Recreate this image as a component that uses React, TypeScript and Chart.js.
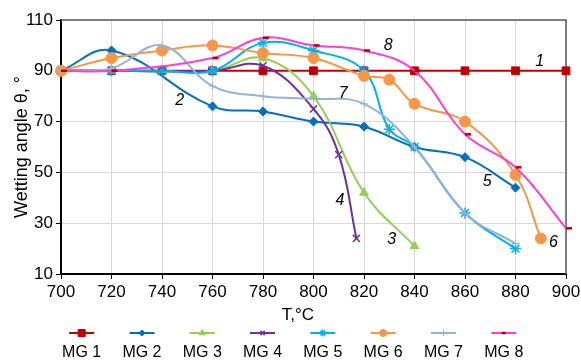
import React, { useEffect, useRef } from 'react';
import { Chart, registerables } from 'chart.js';
import { drawPoint } from 'chart.js/helpers';

Chart.register(...registerables);

const FONT = '"Liberation Sans", Arial, sans-serif';

// ---- data ----
const seriesNames = ['MG 1', 'MG 2', 'MG 3', 'MG 4', 'MG 5', 'MG 6', 'MG 7', 'MG 8'];

const mg1T = [700, 720, 740, 760, 780, 800, 820, 840, 860, 880, 900];
const mg1Angle = [90, 90, 90, 90, 90, 90, 90, 90, 90, 90, 90];
const mg2T = [700, 720, 760, 780, 800, 820, 840, 860, 880];
const mg2Angle = [90, 98, 76, 74, 70, 68, 60, 56, 44];
const mg3T = [700, 720, 760, 780, 800, 820, 840];
const mg3Angle = [90, 90, 90, 95, 80, 42, 21];
const mg4T = [700, 720, 760, 780, 800, 810, 817];
const mg4Angle = [90, 90, 90, 92, 75, 57, 24];
const mg5T = [700, 720, 740, 760, 780, 800, 820, 830, 840, 860, 880];
const mg5Angle = [90, 90, 90, 90, 101, 98, 90, 67, 60, 34, 20];
const mg6T = [700, 720, 740, 760, 780, 800, 820, 830, 840, 860, 880, 890];
const mg6Angle = [90, 95, 98, 100, 97, 95, 88, 86.5, 77, 70, 49, 24];
const mg7T = [700, 720, 740, 760, 780, 800, 820, 840, 860, 880];
const mg7Angle = [90, 91, 100, 84, 80, 79, 77, 60, 34, 22];
const mg8T = [700, 720, 760, 780, 800, 820, 840, 860, 880, 900];
const mg8Angle = [90, 90, 95, 103, 100, 98, 90, 65, 52, 28];

const xTickValues = [700, 720, 740, 760, 780, 800, 820, 840, 860, 880, 900];
const yTickValues = [10, 30, 50, 70, 90, 110];

// curve number tags (text, temperature, angle)
const tagText = ['1', '2', '3', '4', '5', '6', '7', '8'];
const tagT = [889.6, 747, 831, 810.5, 868.8, 895, 811.8, 829.6];
const tagAngle = [93.6, 78.2, 23.4, 38.9, 46.3, 22.5, 81.1, 99.9];

const xTitle = 'T,°C';
const yTitle = 'Wetting angle θ, °';

// ---- styles ----
const seriesTs = [mg1T, mg2T, mg3T, mg4T, mg5T, mg6T, mg7T, mg8T];
const seriesAngles = [mg1Angle, mg2Angle, mg3Angle, mg4Angle, mg5Angle, mg6Angle, mg7Angle, mg8Angle];
const lineColors = ['#C00000', '#0070C0', '#92D050', '#7030A0', '#00B0F0', '#F79646', '#95B3D7', '#FF3FCF'];
const markerFill = ['#C00000', '#0070C0', '#92D050', '#7030A0', '#00B0F0', '#F79646', '#95B3D7', '#C00000'];
const markerStyles = ['rect', 'rectRot', 'triangle', 'crossRot', 'star', 'circle', 'cross', 'dash'];
const markerRadius = [5.5, 4.5, 5, 5, 5.5, 5.5, 4, 6];
const markerBorder = [1, 1, 1, 1.5, 1.5, 1, 1, 2.5];
const legendRadius = [5, 3, 3.5, 3, 3.5, 3.5, 3, 4];

const overlayPlugin = {
  id: 'overlay',
  beforeDatasetsDraw(chart: any) {
    const { ctx, chartArea } = chart;
    ctx.save();
    ctx.strokeStyle = '#595959';
    ctx.lineWidth = 1.5;
    ctx.beginPath();
    ctx.moveTo(chartArea.left, chartArea.top);
    ctx.lineTo(chartArea.right, chartArea.top);
    ctx.lineTo(chartArea.right, chartArea.bottom);
    ctx.stroke();
    ctx.restore();
  },
  afterDraw(chart: any) {
    const { ctx, chartArea, scales } = chart;
    ctx.save();
    ctx.fillStyle = '#000';
    // tags
    ctx.font = `italic 16px ${FONT}`;
    ctx.textAlign = 'center';
    ctx.textBaseline = 'middle';
    tagText.forEach((t, i) => {
      ctx.fillText(t, scales.x.getPixelForValue(tagT[i]), scales.y.getPixelForValue(tagAngle[i]));
    });
    // axis titles
    ctx.font = `17px ${FONT}`;
    ctx.fillText(xTitle, (chartArea.left + chartArea.right) / 2 - 15.5, chartArea.bottom + 41);
    ctx.save();
    ctx.translate(22, (chartArea.top + chartArea.bottom) / 2);
    ctx.rotate(-Math.PI / 2);
    ctx.font = `18px ${FONT}`;
    ctx.fillText(yTitle, 0, 0);
    ctx.restore();
    // legend
    const spacing = 60.3;
    const center = chart.width / 2 + 2.2;
    const n = seriesNames.length;
    const lineY = chartArea.bottom + 59;
    const textY = chartArea.bottom + 79;
    for (let i = 0; i < n; i++) {
      const cx = center + (i - (n - 1) / 2) * spacing;
      ctx.strokeStyle = lineColors[i];
      ctx.lineWidth = 2;
      ctx.beginPath();
      ctx.moveTo(cx - 12.5, lineY);
      ctx.lineTo(cx + 12.5, lineY);
      ctx.stroke();
      ctx.fillStyle = markerFill[i];
      ctx.strokeStyle = markerStyles[i] === 'dash' ? '#C00000' : lineColors[i];
      ctx.lineWidth = markerBorder[i];
      drawPoint(ctx, {
        pointStyle: markerStyles[i],
        radius: legendRadius[i],
        borderWidth: markerBorder[i],
        rotation: 0,
      } as any, markerStyles[i] === 'dash' ? cx - 2 : cx, lineY);
      ctx.fillStyle = '#000';
      ctx.font = `16px ${FONT}`;
      ctx.textAlign = 'center';
      ctx.textBaseline = 'middle';
      ctx.fillText(seriesNames[i], cx, textY);
    }
    ctx.restore();
  },
};

export default function App() {
  const canvasRef = useRef<HTMLCanvasElement>(null);

  useEffect(() => {
    document.body.style.margin = '0';
    const canvas = canvasRef.current;
    if (!canvas) return;
    const datasets = seriesNames.map((name, i) => ({
      label: name,
      data: seriesTs[i].map((t, j) => ({ x: t, y: seriesAngles[i][j] })),
      borderColor: lineColors[i],
      backgroundColor: markerFill[i],
      borderWidth: 2,
      tension: 0.4,
      pointStyle: markerStyles[i],
      pointRadius: markerRadius[i],
      pointBorderWidth: markerBorder[i],
      pointBackgroundColor: markerFill[i],
      pointBorderColor: markerStyles[i] === 'dash' ? '#C00000' : lineColors[i],
      order: seriesNames.length - 1 - i,
      clip: false as any,
    }));

    const chart = new Chart(canvas, {
      type: 'line',
      data: { datasets },
      options: {
        animation: false,
        responsive: true,
        maintainAspectRatio: false,
        layout: { padding: { left: 0, right: 15, top: 20, bottom: 57 } },
        plugins: { legend: { display: false }, tooltip: { enabled: false } },
        elements: { line: { capBezierPoints: true } },
        scales: {
          x: {
            type: 'linear',
            min: xTickValues[0],
            max: xTickValues[xTickValues.length - 1],
            ticks: {
              stepSize: xTickValues[1] - xTickValues[0],
              color: '#000',
              font: { family: FONT, size: 17 },
              padding: 3,
              maxRotation: 0,
              autoSkip: false,
            },
            grid: { color: '#D9D9D9', lineWidth: 1, tickLength: 5, tickColor: '#000' },
            border: { color: '#000', width: 2 },
            afterFit: (s: any) => {
              s.height = 30;
              s.paddingLeft = 0;
              s.paddingRight = 0;
            },
          },
          y: {
            type: 'linear',
            min: yTickValues[0],
            max: yTickValues[yTickValues.length - 1],
            ticks: {
              stepSize: yTickValues[1] - yTickValues[0],
              color: '#000',
              font: { family: FONT, size: 17 },
              padding: 3,
            },
            grid: { color: '#D9D9D9', lineWidth: 1, tickLength: 5, tickColor: '#000' },
            border: { color: '#000', width: 2 },
            afterFit: (s: any) => {
              s.width = 61;
              s.paddingTop = 0;
              s.paddingBottom = 0;
            },
          },
        },
      },
      plugins: [overlayPlugin],
    });
    return () => chart.destroy();
  }, []);

  return (
    <div style={{ position: 'relative', width: 581, height: 361 }}>
      <canvas ref={canvasRef} />
    </div>
  );
}
